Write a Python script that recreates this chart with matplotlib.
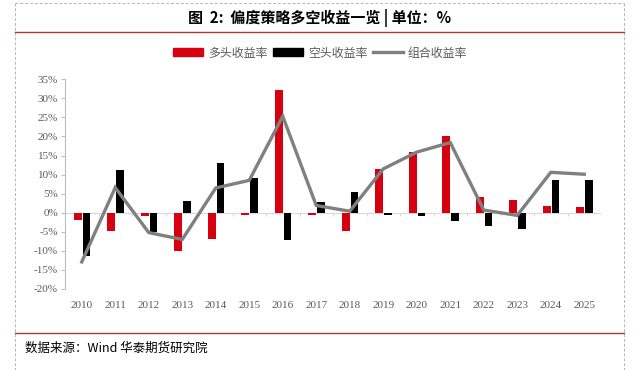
import matplotlib
matplotlib.use("Agg")
import matplotlib.pyplot as plt
import numpy as np
from matplotlib.lines import Line2D
from matplotlib.patches import Patch

years = [str(y) for y in range(2010, 2026)]
long_ret = [-1.9, -4.7, -0.8, -10.1, -7.0, -0.7, 32.3, -0.7, -4.9, 11.6, 15.9, 20.1, 4.0, 3.3, 1.8, 1.4]
short_ret = [-11.3, 11.2, -5.1, 3.1, 13.1, 9.0, -7.1, 2.7, 5.5, -0.6, -0.8, -2.1, -3.4, -4.3, 8.6, 8.6]
combo_ret = [-12.9, 6.6, -5.2, -7.0, 6.5, 8.5, 25.3, 1.9, 0.4, 11.5, 15.9, 18.4, 0.7, -0.7, 10.6, 10.1]
yticks = list(range(-20, 40, 5))

title = "图  2:  偏度策略多空收益一览 | 单位：%"
source = "数据来源：Wind 华泰期货研究院"
labels = ["多头收益率", "空头收益率", "组合收益率"]

plt.rcParams['font.family'] = ['Noto Sans CJK SC', 'DejaVu Sans']

W, H = 640, 370
fig = plt.figure(figsize=(W / 100, H / 100), dpi=100)
fig.patch.set_facecolor("white")

def fx(px):
    return px / W

def fy(py):
    return 1 - py / H

ax = fig.add_axes([fx(65), fy(289), fx(601) - fx(65), fy(79.3) - fy(289)])
x = np.arange(len(years))
red = "#D7000F"
bw = 0.23
ax.bar(x - 0.12, long_ret, width=bw, color=red, zorder=2)
ax.bar(x + 0.14, short_ret, width=bw, color="black", zorder=2)
ax.plot(x, combo_ret, color="#808080", lw=2.4, zorder=3, solid_joinstyle="miter")

ax.set_xlim(-0.5, len(years) - 0.5)
ax.set_ylim(-20, 35)
ax.set_yticks(yticks)
ax.set_yticklabels([f"{v}%" for v in yticks], family="Liberation Serif", fontsize=8, color="#595959")
ax.set_xticks(x)
ax.set_xticklabels(years, family="Liberation Serif", fontsize=8, color="#595959")
ax.tick_params(axis="x", length=0, pad=9)
ax.tick_params(axis="y", length=3, color="#bfbfbf", pad=2)
for s in ["top", "right", "bottom"]:
    ax.spines[s].set_visible(False)
ax.spines["left"].set_color("#bfbfbf")
ax.spines["left"].set_linewidth(0.8)
ax.axhline(0, color="#d9d9d9", lw=0.8, zorder=1)
ax.vlines(np.arange(len(years) + 1) - 0.5, -0.8, 0, color="#d9d9d9", lw=0.8, zorder=1)

# legend
handles = [Patch(color=red), Patch(color="black"), Line2D([0], [0], color="#808080", lw=2.4)]
leg = fig.legend(handles, labels, loc="center", bbox_to_anchor=(fx(320), fy(53)), ncol=3,
                 frameon=False, fontsize=8.6, handlelength=2.5, handletextpad=0.4,
                 columnspacing=0.5, handleheight=0.6, borderpad=0, borderaxespad=0)
for t in leg.get_texts():
    t.set_color("#595959")

# title
fig.text(fx(320), fy(18), title, ha="center", va="center", fontsize=10.8, fontweight="bold", color="black")

# decorations
dash = "#b5b5b5"
L, R = 15, 624
fig.add_artist(Line2D([fx(L), fx(R)], [fy(3), fy(3)], color=dash, lw=0.7, ls=(0, (3, 2))))
fig.add_artist(Line2D([fx(L), fx(L)], [fy(3), fy(370)], color=dash, lw=0.7, ls=(0, (3, 2))))
fig.add_artist(Line2D([fx(R), fx(R)], [fy(3), fy(370)], color=dash, lw=0.7, ls=(0, (3, 2))))
brown = "#a83a3a"
fig.add_artist(Line2D([fx(L), fx(R)], [fy(31.7), fy(31.7)], color=brown, lw=1.0))
fig.add_artist(Line2D([fx(L), fx(R)], [fy(333), fy(333)], color=brown, lw=1.0))

fig.text(fx(25), fy(348), source, ha="left", va="center", fontsize=9, color="black",
         family=["Noto Sans CJK SC", "Liberation Serif"])

fig.savefig("out.png", dpi=100)
